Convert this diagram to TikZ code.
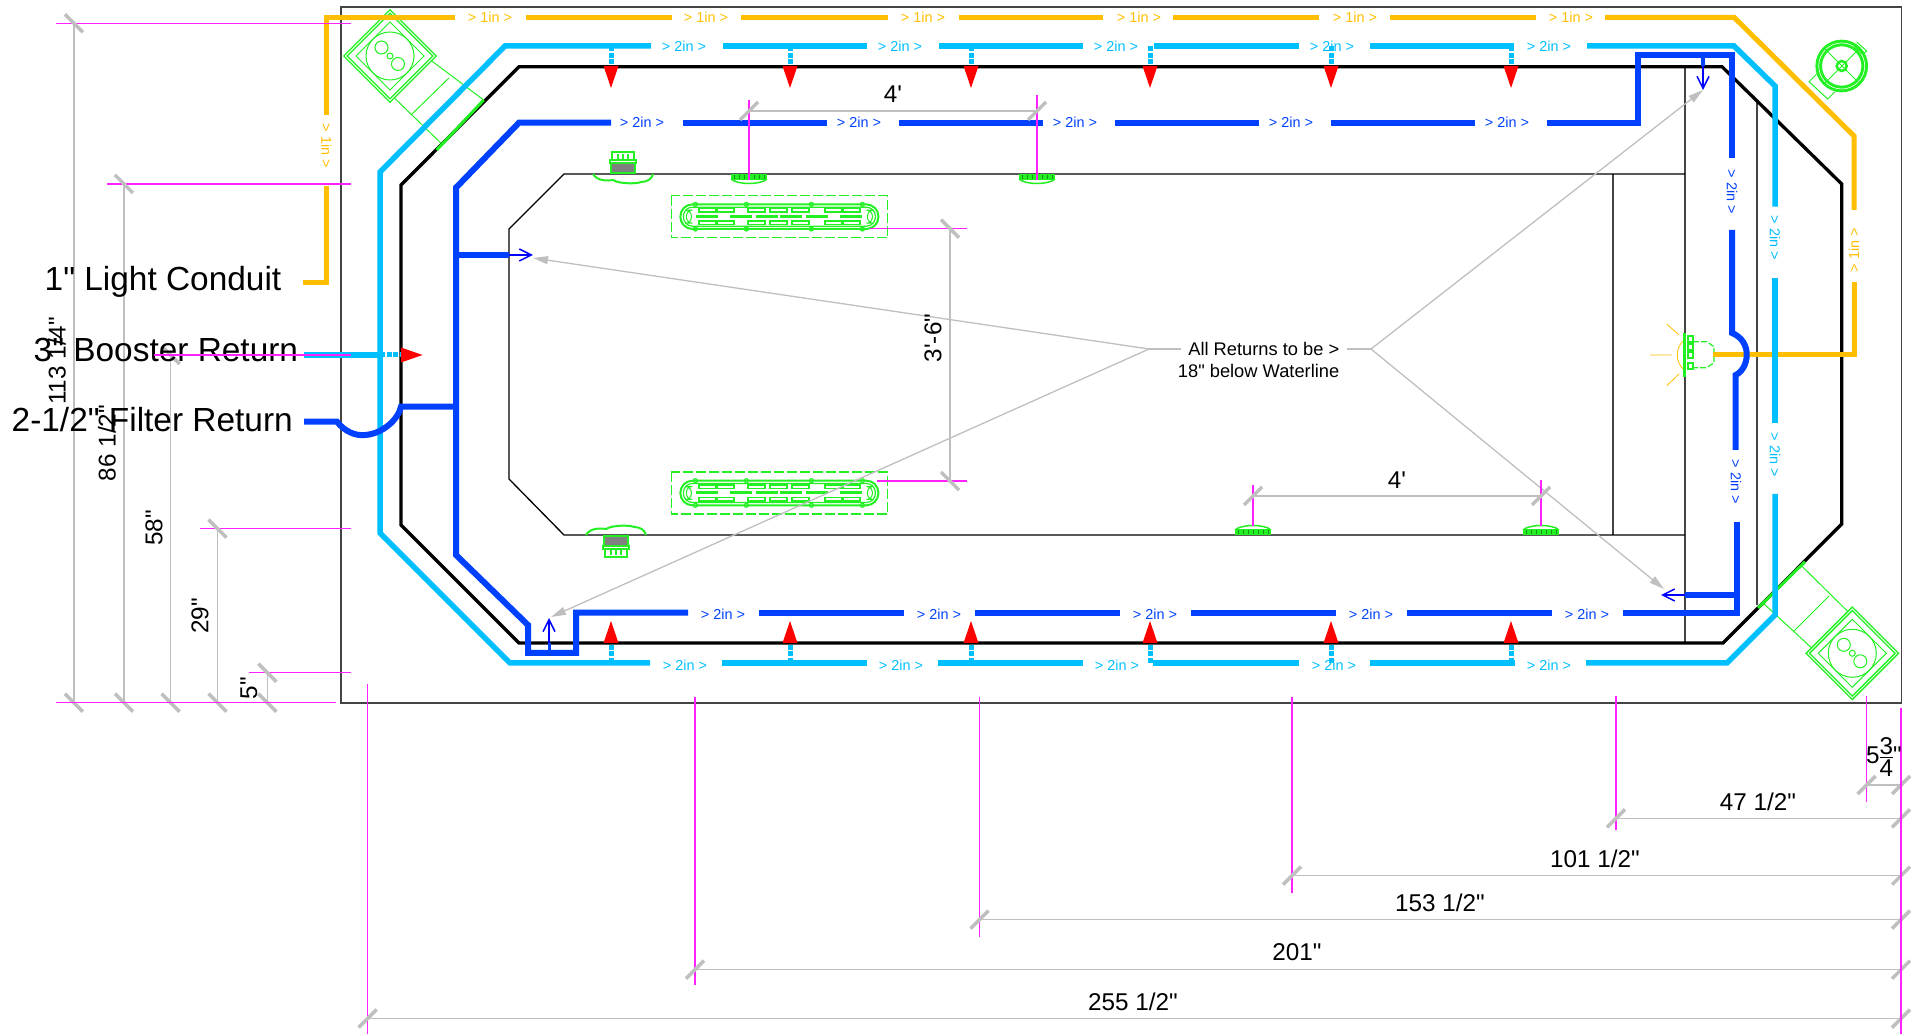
\documentclass[tikz,border=0pt]{standalone}
\usepackage{fontspec}
\defaultfontfeatures[\rmfamily]{}
\setmainfont{Liberation Sans}
\usetikzlibrary{calc,positioning,arrows.meta}
\definecolor{conduit}{HTML}{FFBF00}
\definecolor{booster}{HTML}{00BFFF}
\definecolor{filter}{HTML}{0040FF}
\definecolor{fixture}{HTML}{22F022}
\definecolor{dimgray}{HTML}{BFBFBF}
\definecolor{dimpink}{HTML}{FF22FF}
\definecolor{wall}{HTML}{444444}
\tikzset{
  orangepipe/.style={conduit,line width=.5mm},
  cyanpipe/.style={booster,line width=.55mm},
  bluepipe/.style={filter,line width=.6mm},
  inlet/.style={booster,line width=.5mm,dash pattern=on .5mm off .17mm},
  pipetext/.style={font=\fontsize{4.1}{5}\selectfont,inner sep=0pt},
  bigtext/.style={font=\fontsize{9.5}{10}\selectfont,anchor=west,inner sep=0pt},
  dimtext/.style={font=\fontsize{6.9}{8}\selectfont,inner sep=0pt},
  dimline/.style={dimgray,line width=.15mm},
  tick/.style={dimgray,line width=.35mm},
  extline/.style={dimpink,line width=.14mm},
  leader/.style={dimgray,line width=.13mm,-{Triangle[length=1.5mm,width=.8mm]}},
  flowarrow/.style={blue,line width=.15mm,-{Straight Barb[length=1.2mm,width=1.2mm]}},
  skimhead/.pic={
    \fill[gray] (-11,-11) rectangle (11,-1);
    \draw[fixture,line width=.15mm] (-12,-11) rectangle (12,-1);
    \draw[fixture,line width=.2mm] (-13,-14) rectangle (13,-11);
    \draw[fixture,line width=.12mm] (-11,-22) rectangle (11,-14);
    \foreach \x in {-5,0,5} \draw[fixture,line width=.15mm] (\x,-20)--(\x,-14);
    \draw[fixture,line width=.2mm] (-30,0) .. controls (-26,7) and (-16,7) .. (-10,6) .. controls (-4,10) and (14,10) .. (18,8) .. controls (24,8) and (29,5) .. (30,0);
  },
  nub/.pic={
    \fill[fixture] (-18,0) rectangle (18,6);
    \foreach \x in {-15,-10,...,15} \draw[fixture!60!black,line width=.05mm] (\x,1)--(\x,5);
    \draw[fixture,line width=.15mm] (-18,5) .. controls (-12,11) and (12,11) .. (18,5);
  },
  grate/.pic={
    \draw[fixture,line width=.15mm,dash pattern=on 1mm off .3mm] (-108,-21) rectangle (108,21);
    \draw[fixture,line width=.2mm,rounded corners=1.2mm] (-99,-12.3) rectangle (99,12.3);
    \draw[fixture,line width=.12mm,rounded corners=.9mm] (-96,-9.5) rectangle (96,9.5);
    \draw[fixture,line width=.1mm,rounded corners=.6mm] (-93,-6.5) rectangle (-88,6.5);
    \draw[fixture,line width=.1mm,rounded corners=.6mm] (88,-6.5) rectangle (93,6.5);
    \foreach \x in {-72,-54,-23,-1,21,54,72} {
      \draw[fixture,line width=.14mm] (\x-8.5,-8) rectangle (\x+8.5,-4.5);
      \draw[fixture,line width=.14mm] (\x-8.5,4.5) rectangle (\x+8.5,8);
    }
    \foreach \x in {-72,-38,-12,12,38,72} \draw[fixture,line width=.3mm] (\x-11,0)--(\x+11,0);
    \foreach \x in {-84,-33,32,83} {
      \draw[fixture,line width=.12mm] (\x,-12.3) circle [radius=2];
      \draw[fixture,line width=.12mm] (\x,12.3) circle [radius=2];
    }
  },
  skimbox/.pic={
    \draw[fixture,line width=.15mm,double,double distance=.08mm] (0,-44.5)--(44.5,0)--(0,44.5)--(-44.5,0)--cycle;
    \draw[fixture,line width=.1mm] (0,-34)--(34,0)--(0,34)--(-34,0)--cycle;
    \draw[fixture,line width=.1mm] (0,0) circle [radius=24];
    \draw[fixture,line width=.1mm] (-8.5,-8.5) circle [radius=6.5];
    \draw[fixture,line width=.1mm] (8,8) circle [radius=6.5];
    \draw[fixture,line width=.1mm] (0,0) circle [radius=3];
  }
}
\begin{document}
\begin{tikzpicture}[x=.01cm,y=-.01cm]
\useasboundingbox (0,0) rectangle (1915,1034);
% Frame
\draw[wall,line width=.17mm] (341,7) rectangle (1901.5,702.7);
% Pool walls
\draw[wall,line width=.17mm] (1685,66.7)--(1685,642);
\draw[wall,line width=.17mm] (1612.7,174)--(1612.7,534.7);
\draw[wall,line width=.17mm] (1756.7,103)--(1756.7,605);
\draw[black,line width=.13mm] (1685,174)--(564,174)--(509,229)--(509,479)--(564,535)--(1685,535);
\draw[black,line width=.33mm] (519,66.7)--(401,185)--(401,525)--(519,643)--(1723,643)--(1841.7,524)--(1841.7,184)--(1722,66.7)--cycle;
% Skimmers
\pic at (390,56) {skimbox};
\draw[fixture,line width=.1mm] (431.4,60.7)--(483.7,100) (394.7,98.3)--(440.8,143) (449,78)--(412,114);
\draw[fixture,line width=.3mm] (483.7,100)--(436.7,150);
\pic at (1852.3,653.3) {skimbox};
\draw[fixture,line width=.1mm] (1801.7,566)--(1848,611.7) (1763,603)--(1811.7,648) (1829,596)--(1794,631);
\draw[fixture,line width=.3mm] (1805,561.7)--(1758,608);
% Pump
\draw[fixture,line width=.3mm,double,double distance=.06mm] (1841.7,66) circle [radius=23];
\draw[fixture,line width=.25mm] (1841.7,66) circle [radius=5];
\draw[fixture,line width=.1mm] (1824,48)--(1860,84) (1860,48)--(1824,84);
\draw[fixture,line width=.1mm] (1816.7,74)--(1809,81.7)--(1827.7,99)--(1835,91.7);
\draw[fixture,line width=.1mm] (1856.7,42)--(1866.7,51)--(1862.7,54)--(1853,45);
% Light
\draw[conduit,line width=.08mm] (1684,340) .. controls (1675,348) and (1675,362) .. (1684,370);
\draw[conduit,line width=.08mm] (1679,335)--(1666.7,324) (1671.7,355)--(1650,355) (1679,374)--(1666.7,385.7);
\draw[fixture,line width=.3mm] (1684.3,332.7)--(1684.3,376.7);
\foreach \y in {339,347,355,366} \draw[fixture,line width=.12mm] (1688,\y-3) rectangle (1693,\y+3);
\draw[fixture,line width=.12mm,dash pattern=on .6mm off .2mm] (1693,341.7)--(1706.7,341.7)--(1714,346.7)--(1714,362.7)--(1706.7,367.7)--(1693,367.7);
% Fittings on the wall
\pic at (623,174) {skimhead};
\pic[yscale=-1] at (616,535) {skimhead};
\pic at (749,174) {nub};
\pic at (1037,174) {nub};
\pic[yscale=-1] at (1253,535) {nub};
\pic[yscale=-1] at (1541,535) {nub};
\pic at (779.4,216.7) {grate};
\pic at (779.4,493) {grate};
% Orange conduit
\draw[orangepipe] (303,283)--(326.5,283)--(326.5,186);
\draw[orangepipe] (326.5,115)--(326.5,17.3)--(455,17.3);
\foreach \a/\b in {526/672,741/888,959/1103,1173/1319,1390/1536} \draw[orangepipe] (\a,17.3)--(\b,17.3);
\draw[orangepipe] (1605,17.3)--(1734,17.3)--(1854,136)--(1854,210);
\draw[orangepipe] (1854,282)--(1854,355)--(1713,355);
% Light blue line
\draw[cyanpipe] (651,46)--(505,46)--(380,172)--(380,533)--(510,663)--(650,663);
\foreach \a/\b in {723/867,939/1083,1154/1299,1370/1514} \draw[cyanpipe] (\a,46)--(\b,46);
\foreach \a/\b in {722/867,938/1083,1153/1299,1370/1515} \draw[cyanpipe] (\a,663)--(\b,663);
\draw[cyanpipe] (1587,46)--(1734,46)--(1775,86)--(1775,206.7);
\draw[cyanpipe] (1775,278)--(1775,422.7);
\draw[cyanpipe] (1775,494)--(1775,615)--(1727,663)--(1586,663);
\draw[cyanpipe] (304,355)--(380,355);
\draw[inlet] (380,355)--(401,355);
\fill[red] (401,347.5)--(401,362.5)--(422.5,355)--cycle;
% Inlets, red heads
\foreach \x in {611,790,971,1150,1331,1511} {
\draw[inlet] (\x,46)--(\x,66);
\draw[inlet] (\x,663)--(\x,643);
\fill[red] (\x-7.5,66)--(\x+7.5,66)--(\x,88)--cycle;
\fill[red] (\x-7.5,643)--(\x+7.5,643)--(\x,621)--cycle;
}
% Dark blue line
\draw[bluepipe] (611,122.7)--(519,122.7)--(456,187.7)--(456,555)--(528,625)--(528,653)--(576,653)--(576,612.7)--(688,612.7);
\foreach \a/\b in {683/827,899/1043,1115/1259,1331/1475} \draw[bluepipe] (\a,122.7)--(\b,122.7);
\foreach \a/\b in {759/904,975/1120,1191/1336,1407/1552} \draw[bluepipe] (\a,612.7)--(\b,612.7);
\draw[bluepipe] (1547,122.7)--(1638,122.7)--(1638,55)--(1732,55)--(1732,158);
\draw[bluepipe] (1732,230)--(1732,333) .. controls (1742,337) and (1747,346) .. (1746.7,355) .. controls (1746.7,364) and (1742,372) .. (1735.7,375)--(1735.7,450);
\draw[bluepipe] (1736.7,521.7)--(1736.7,612.7)--(1623,612.7);
\draw[bluepipe] (304,421.7)--(337,421.7) .. controls (345,432) and (356,436) .. (365,435) .. controls (382,434) and (398,420) .. (401,406.7)--(456,406.7);
\draw[bluepipe] (456,255)--(509,255);
\draw[bluepipe] (1736.7,595)--(1685,595);
\draw[bluepipe,line width=.45mm] (1703,55)--(1703,66);
\draw[bluepipe,line width=.3mm] (549,653)--(549,643);
% Flow arrows
\draw[flowarrow] (509,255)--(533,255);
\draw[flowarrow] (1685,595)--(1661,595);
\draw[flowarrow] (1703,66)--(1703,90);
\draw[flowarrow] (549,643)--(549,618);
% Pipe sizes
\foreach \x [count=\i] in {490,706,923,1139,1355,1571} \node[pipetext,text=conduit] (ot\i) at (\x,17.3) {> 1in >};
\node[pipetext,text=conduit,rotate=-90] (ot7) at (326.5,146) {> 1in >};
\node[pipetext,text=conduit,rotate=90] (ot8) at (1854,250) {> 1in >};
\foreach \x [count=\i] in {684,900,1116,1332,1549} \node[pipetext,text=booster] (ct\i) at (\x,46) {> 2in >};
\foreach \x [count=\i] in {685,901,1117,1334,1549} \node[pipetext,text=booster] (cb\i) at (\x,665) {> 2in >};
\node[pipetext,text=booster,rotate=-90] (cr1) at (1775,238) {> 2in >};
\node[pipetext,text=booster,rotate=-90] (cr2) at (1775,455) {> 2in >};
\foreach \x [count=\i] in {642,859,1075,1291,1507} \node[pipetext,text=filter] (bt\i) at (\x,122.7) {> 2in >};
\foreach \x [count=\i] in {723,939,1155,1371,1587} \node[pipetext,text=filter] (bb\i) at (\x,614) {> 2in >};
\node[pipetext,text=filter,rotate=-90] (br1) at (1732,192) {> 2in >};
\node[pipetext,text=filter,rotate=-90] (br2) at (1736,481.7) {> 2in >};
% Returns note
\node[font=\fontsize{5.2}{6}\selectfont,anchor=east,inner sep=2pt] (retone) at (1347,349) {All Returns to be >};
\node[font=\fontsize{5.2}{6}\selectfont,anchor=east,inner sep=2pt] (rettwo) at (1347,371) {18" below Waterline};
\coordinate (retL) at (1149,349);
\coordinate (retR) at (1371,349);
\coordinate (retA) at (533,258);
\coordinate (retB) at (551,617);
\coordinate (retC) at (1703,90);
\coordinate (retD) at (1664,589);
\draw[dimgray,line width=.13mm] (retone.west)--(retL);
\draw[dimgray,line width=.13mm] (retone.east)--(retR);
\draw[leader] (retL)--(retA);
\draw[leader] (retL)--(retB);
\draw[leader] (retR)--(retC);
\draw[leader] (retR)--(retD);
% Left dimensions
\foreach \x/\y/\s in {73.9/23.3/56,124/184/107,170.6/355/154,217.5/528.7/200,267.3/672.7/249} {
\draw[dimline] (\x,\y)--(\x,702.7);
\draw[extline] (\s,\y)--(351,\y);
\draw[tick] (\x-9,\y-9)--(\x+9,\y+9);
\draw[tick] (\x-9,702.7-9)--(\x+9,702.7+9);
}
\draw[extline] (56,702.7)--(335.5,702.7);
\node[dimtext,rotate=90] (dl1) at (57,361) {113 1/4"};
\node[dimtext,rotate=90] (dl2) at (107,443) {86 1/2"};
\node[dimtext,rotate=90] (dl3) at (154,528) {58"};
\node[dimtext,rotate=90] (dl4) at (200,615.7) {29"};
\node[dimtext,rotate=90] (dl5) at (249,688) {5"};
% Bottom dimensions
\foreach \x/\y/\a/\b in {367.6/1018.6/684/1034,695/969.7/697/985,979.5/919.6/697/937,1292/875.7/697/893,1616/818.3/696/830,1866.7/785/696/802} {
\draw[dimline] (\x,\y)--(1901,\y);
\draw[extline] (\x,\a)--(\x,\b);
\draw[tick] (\x-9,\y+9)--(\x+9,\y-9);
\draw[tick] (1901-9,\y+9)--(1901+9,\y-9);
}
\draw[extline] (1901,707.7)--(1901,1034);
\node[dimtext] (db1) at (1133,1001.5) {255 1/2"};
\node[dimtext] (db2) at (1297,952.6) {201"};
\node[dimtext] (db3) at (1440,902.5) {153 1/2"};
\node[dimtext] (db4) at (1595,858.6) {101 1/2"};
\node[dimtext] (db5) at (1758,801.7) {47 1/2"};
\node[dimtext] (db6) at (1884,757) {\nulldelimiterspace=0pt 5$\frac{\mbox{3}}{\mbox{4}}$"};
% Inner dimensions
\draw[extline] (749,100)--(749,180);
\draw[extline] (1037,95)--(1037,180);
\draw[dimline] (749,111)--(1037,111);
\draw[tick] (740,120)--(758,102);
\draw[tick] (1028,120)--(1046,102);
\node[dimtext] (di1) at (893,94) {4'};
\draw[extline] (1253,485)--(1253,526);
\draw[extline] (1541,480)--(1541,526);
\draw[dimline] (1253,496)--(1541,496);
\draw[tick] (1244,505)--(1262,487);
\draw[tick] (1532,505)--(1550,487);
\node[dimtext] (di2) at (1397,480) {4'};
\draw[extline] (870,228.7)--(967,228.7);
\draw[extline] (877,481)--(967,481);
\draw[dimline] (950,228.7)--(950,481);
\draw[tick] (941,219.7)--(959,237.7);
\draw[tick] (941,472)--(959,490);
\node[dimtext,rotate=90] (di3) at (933,338) {3'-6"};
% Legend
\node[bigtext] (lblconduit) at (44,282) {1" Light Conduit};
\node[bigtext] (lblbooster) at (33,350) {3" Booster Return};
\node[bigtext] (lblfilter) at (11,420) {2-1/2" Filter Return};
\draw[extline] (154,355)--(351,355);
\end{tikzpicture}
\end{document}
